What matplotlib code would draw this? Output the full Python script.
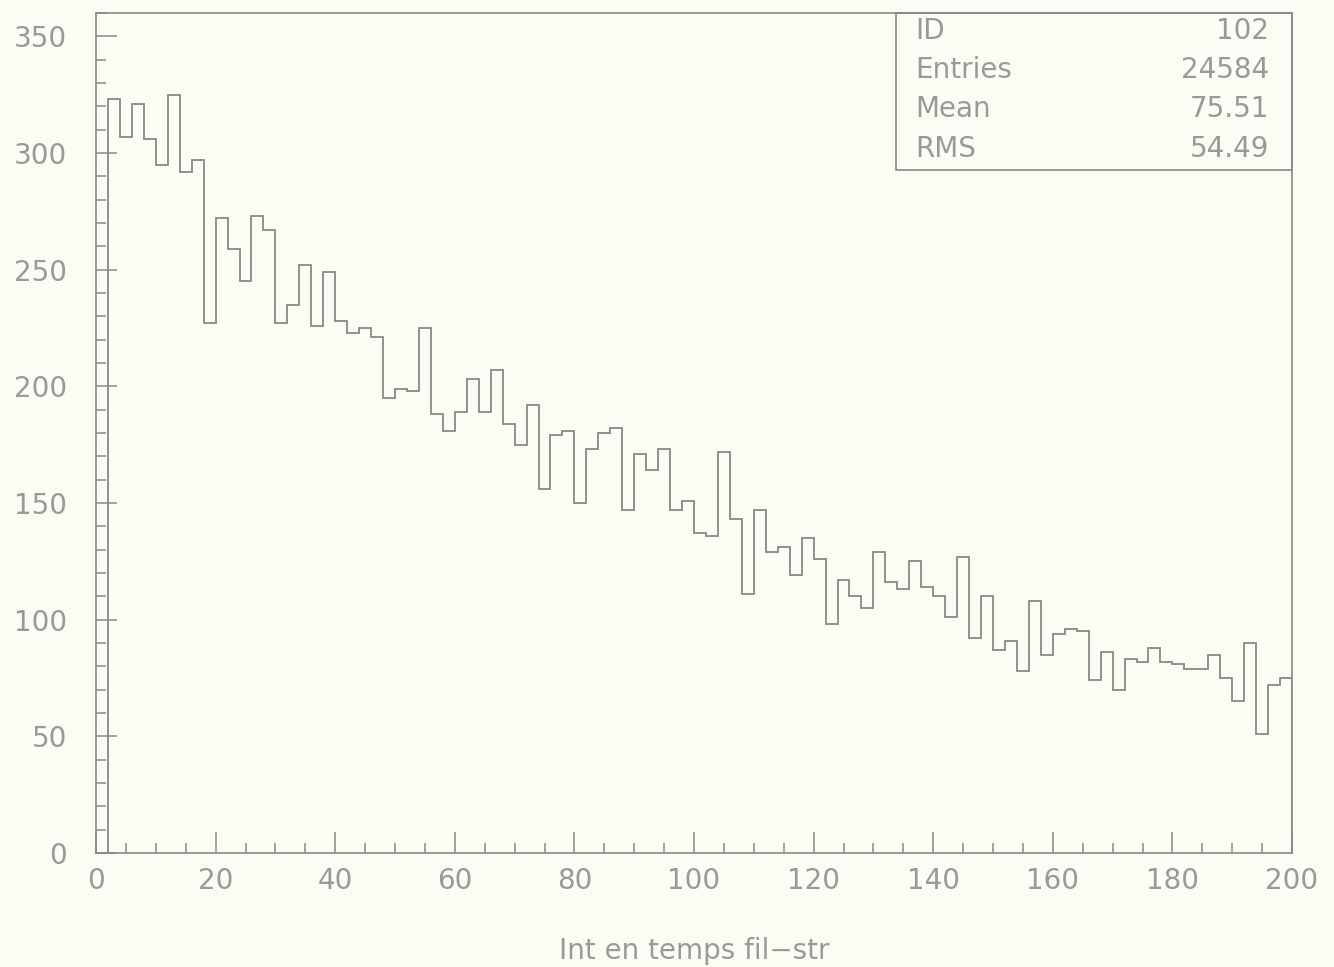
import numpy as np
import matplotlib
matplotlib.use("Agg")
import matplotlib.pyplot as plt
from matplotlib.ticker import MultipleLocator

# ---- data ----
x_min, x_max, bin_width = 0, 200, 2
counts = [0,
          323, 307, 321, 306, 295, 325, 292, 297,
          227, 272, 259, 245, 273, 267, 227, 235, 252, 226, 249,
          228, 223, 225, 221, 195, 199, 198, 225, 188, 181,
          189, 203, 189, 207, 184, 175, 192, 156, 179, 181,
          150, 173, 180, 182, 147, 171, 164, 173, 147, 151,
          137, 136, 172, 143, 111, 147, 129, 131, 119, 135,
          126, 98, 117, 110, 105, 129, 116, 113, 125, 114,
          110, 101, 127, 92, 110, 87, 91, 78, 108, 85,
          94, 96, 95, 74, 86, 70, 83, 82, 88, 82,
          81, 79, 79, 85, 75, 65, 90, 51, 72, 75]
stat_names = ["ID", "Entries", "Mean", "RMS"]
stat_values = ["102", "24584", "75.51", "54.49"]
x_label = "Int en temps fil\u2212str"
y_lim = (0, 360)
x_ticks_major = list(range(0, 201, 20))
y_ticks_major = list(range(0, 351, 50))

edges = np.arange(x_min, x_max + bin_width, bin_width)

# ---- style ----
bg = "#fcfcf5"
ink = "#888888"
txt = "#999999"
fs = 20

plt.rcParams['font.family'] = ['DejaVu Sans']

W, H = 1334, 967
fig = plt.figure(figsize=(W / 100, H / 100), dpi=100, facecolor=bg)
left, right, top, bottom = 96, 1292, 13, 853
ax = fig.add_axes([left / W, 1 - bottom / H, (right - left) / W, (bottom - top) / H])
ax.set_facecolor(bg)

ax.stairs(counts, edges, baseline=0, color=ink, linewidth=1.3)

ax.set_xlim(x_min, x_max)
ax.set_ylim(*y_lim)

ax.xaxis.set_minor_locator(MultipleLocator(5))
ax.yaxis.set_minor_locator(MultipleLocator(10))
ax.set_xticks(x_ticks_major)
ax.set_yticks(y_ticks_major)

ax.tick_params(axis='both', which='major', direction='in', length=15, width=1.1,
               color=ink, labelcolor=txt, labelsize=fs)
ax.tick_params(axis='both', which='minor', direction='in', length=7, width=1.1, color=ink)
ax.tick_params(axis='y', which='both', pad=21)
ax.tick_params(axis='x', which='both', pad=10)
ax.tick_params(top=False, right=False, which='both')

for sp in ax.spines.values():
    sp.set_color(ink)
    sp.set_linewidth(1.2)

ax.set_xlabel(x_label, color=txt, fontsize=fs, labelpad=30)

# ---- stats box ----
box_x0 = 0.669
box_y0 = 0.813
ax.add_patch(plt.Rectangle((box_x0, box_y0), 1 - box_x0, 1 - box_y0,
                           transform=ax.transAxes, fill=False,
                           edgecolor=ink, linewidth=1.2, clip_on=False))
row_h = (1 - box_y0) / 4
for i, (n, v) in enumerate(zip(stat_names, stat_values)):
    yy = 1 - row_h * (i + 0.5) + 0.002
    ax.text(box_x0 + 0.016, yy, n, transform=ax.transAxes, ha='left', va='center',
            color=txt, fontsize=fs)
    ax.text(0.981, yy, v, transform=ax.transAxes, ha='right', va='center',
            color=txt, fontsize=fs)

fig.savefig("out.png", dpi=100, facecolor=bg)
